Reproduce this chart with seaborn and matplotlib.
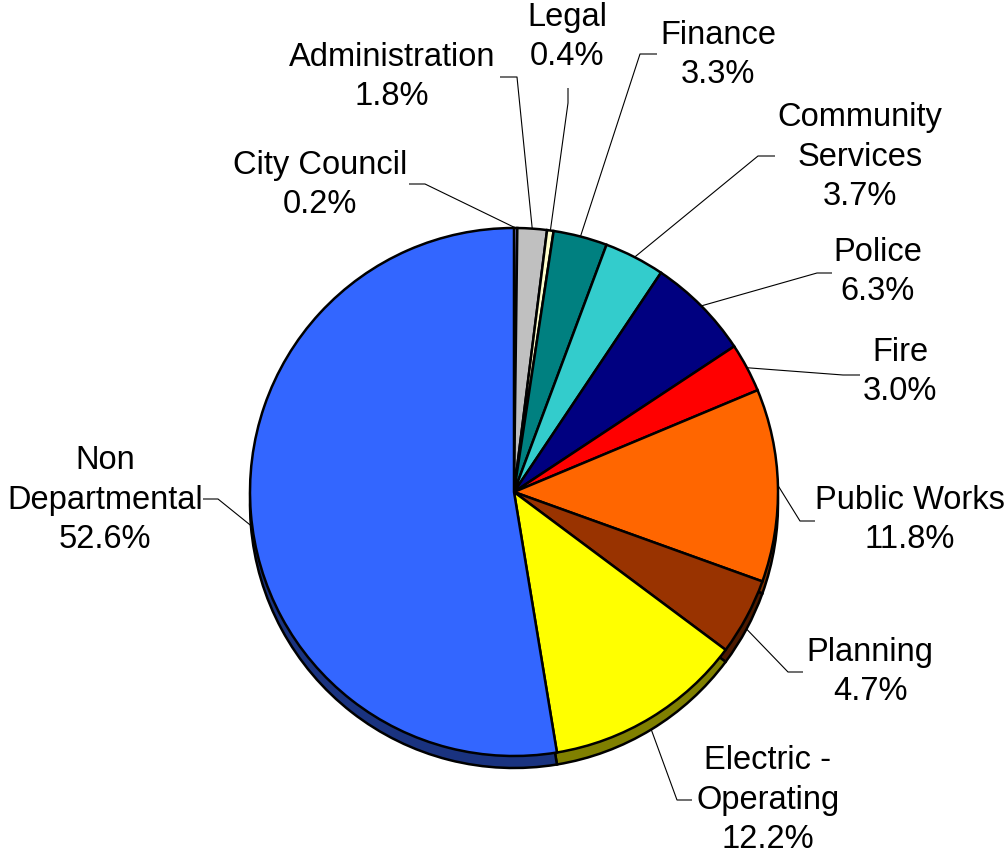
import numpy as np
import matplotlib
matplotlib.use("Agg")
import matplotlib.pyplot as plt
import seaborn as sns

# Budget share by department (percent), clockwise from 12 o'clock
departments = ["City Council", "Administration", "Legal", "Finance",
               "Community\nServices", "Police", "Fire", "Public Works",
               "Planning", "Electric -\nOperating", "Non\nDepartmental"]
shares = [0.2, 1.8, 0.4, 3.3, 3.7, 6.3, 3.0, 11.8, 4.7, 12.2, 52.6]
colors = ["#9999FF", "#C0C0C0", "#FFFFCC", "#008080", "#33CCCC", "#000080",
          "#FF0000", "#FF6600", "#993300", "#FFFF00", "#3366FF"]

# Label layout in pixel space: text centre, leader elbow, leader end
label_pos = [(320, 185), (392, 77), (567, 37), (718, 55), (860, 157),
             (878, 272), (900, 372), (910, 520), (870, 672), (768, 800),
             (105, 500)]
elbows = [(425, 184), (517, 77), (568, 103), (640, 54), (758, 156),
          (817, 273), (843, 375), (800, 521), (788, 672), (677, 800),
          (218, 499)]
ends = [(409, 184), (500, 77), (568, 88), (657, 54), (775, 156),
        (832, 273), (860, 375), (815, 521), (803, 672), (692, 800),
        (203, 499)]

W, H = 1008, 856
CX, CY, R, DEPTH = 514, 492, 264, 12

sns.set_style("white")
plt.rcParams["font.family"] = ["Liberation Sans", "DejaVu Sans"]

fig = plt.figure(figsize=(W / 100, H / 100), dpi=100)
ax = fig.add_axes([0, 0, 1, 1])


def py(y):
    return H - y


def darker(c, f=0.5):
    r, g, b = matplotlib.colors.to_rgb(c)
    return (r * f, g * f, b * f)


# extruded side of the pie
side, _ = ax.pie(shares, colors=[darker(c) for c in colors], startangle=90,
                 counterclock=False, center=(CX, py(CY + DEPTH)), radius=R,
                 wedgeprops=dict(edgecolor="black", linewidth=1.8))
for w in side:
    w.set_zorder(1)

top, _ = ax.pie(shares, colors=colors, startangle=90, counterclock=False,
                center=(CX, py(CY)), radius=R,
                wedgeprops=dict(edgecolor="black", linewidth=1.8))
for w in top:
    w.set_zorder(2)

for w, name, val, lp, el, en in zip(top, departments, shares, label_pos,
                                    elbows, ends):
    ang = np.deg2rad((w.theta1 + w.theta2) / 2)
    sx = CX + R * np.cos(ang)
    sy = CY - R * np.sin(ang)
    if np.sin(ang) < 0:
        sy += DEPTH
    ax.plot([sx, el[0], en[0]], [py(sy), py(el[1]), py(en[1])],
            color="black", lw=0.8, zorder=3, solid_capstyle="butt")
    ax.text(lp[0], py(lp[1]), f"{name}\n{val:.1f}%", ha="center",
            va="center", multialignment="center", fontsize=23.5,
            linespacing=1.36, color="black", zorder=4)

ax.set_xlim(0, W)
ax.set_ylim(0, H)
ax.set_aspect("equal")
ax.axis("off")

fig.savefig("out.png", dpi=100, facecolor="white")
